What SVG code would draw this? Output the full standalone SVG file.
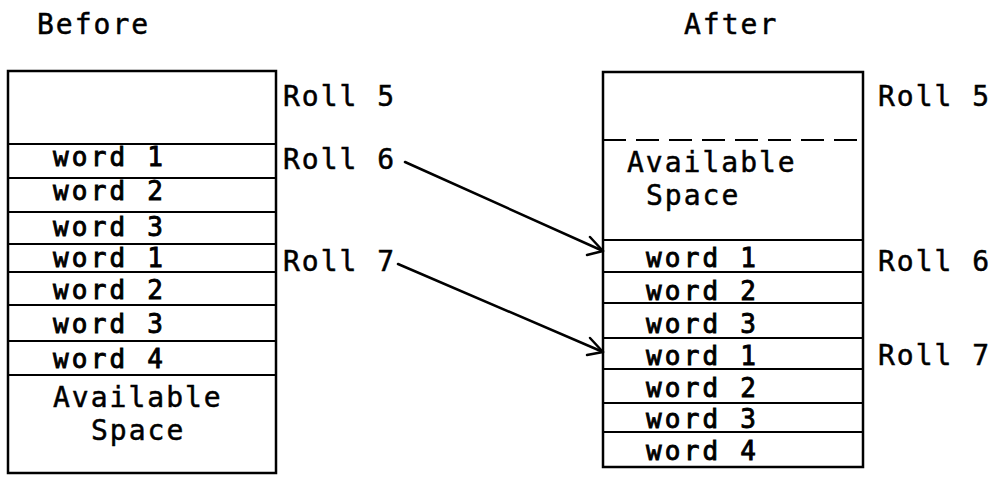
<svg xmlns="http://www.w3.org/2000/svg" width="997" height="478" viewBox="0 0 997 478">
<style>
text{font-family:"DejaVu Sans Mono","Liberation Mono",monospace;font-size:28px;letter-spacing:2px;fill:#000;stroke:#000;stroke-width:0.5}
text.w{font-size:26px;letter-spacing:3.2px;stroke-width:0.9}
.box{fill:none;stroke:#000;stroke-width:2.5}
.sep{stroke:#000;stroke-width:2.2}
.dash{stroke:#000;stroke-width:2.2;stroke-dasharray:23 10}
.arr{fill:none;stroke:#000;stroke-width:2.5;stroke-linecap:round;stroke-linejoin:round}
</style>
<rect width="997" height="478" fill="#fff"/>
<text id="title-before" x="37" y="34">Before</text>
<text id="title-after" x="684" y="34">After</text>
<g id="before">
  <rect class="box" x="8" y="71" width="268" height="402"/>
  <line class="sep" x1="8" y1="144" x2="276" y2="144"/>
  <line class="sep" x1="8" y1="178" x2="276" y2="178"/>
  <line class="sep" x1="8" y1="212" x2="276" y2="212"/>
  <line class="sep" x1="8" y1="244" x2="276" y2="244"/>
  <line class="sep" x1="8" y1="272" x2="276" y2="272"/>
  <line class="sep" x1="8" y1="305" x2="276" y2="305"/>
  <line class="sep" x1="8" y1="341" x2="276" y2="341"/>
  <line class="sep" x1="8" y1="375" x2="276" y2="375"/>
  <text class="w" x="53" y="166">word 1</text>
  <text class="w" x="53" y="200">word 2</text>
  <text class="w" x="53" y="236">word 3</text>
  <text class="w" x="53" y="267">word 1</text>
  <text class="w" x="53" y="299">word 2</text>
  <text class="w" x="53" y="333">word 3</text>
  <text class="w" x="53" y="368">word 4</text>
  <text x="53" y="407">Available</text>
  <text x="91" y="440">Space</text>
</g>
<g id="before-labels">
  <text x="283" y="106">Roll 5</text>
  <text x="283" y="169">Roll 6</text>
  <text x="283" y="271">Roll 7</text>
</g>
<g id="after">
  <rect class="box" x="603" y="72" width="260" height="395"/>
  <line class="dash" x1="603" y1="140" x2="863" y2="140"/>
  <line class="sep" x1="603" y1="240" x2="863" y2="240"/>
  <line class="sep" x1="603" y1="272" x2="863" y2="272"/>
  <line class="sep" x1="603" y1="303" x2="863" y2="303"/>
  <line class="sep" x1="603" y1="338" x2="863" y2="338"/>
  <line class="sep" x1="603" y1="369" x2="863" y2="369"/>
  <line class="sep" x1="603" y1="403" x2="863" y2="403"/>
  <line class="sep" x1="603" y1="432" x2="863" y2="432"/>
  <text x="627" y="172">Available</text>
  <text x="646" y="205">Space</text>
  <text class="w" x="646" y="267">word 1</text>
  <text class="w" x="646" y="300">word 2</text>
  <text class="w" x="646" y="333">word 3</text>
  <text class="w" x="646" y="365">word 1</text>
  <text class="w" x="646" y="397">word 2</text>
  <text class="w" x="646" y="428">word 3</text>
  <text class="w" x="646" y="460">word 4</text>
</g>
<g id="after-labels">
  <text x="878" y="106">Roll 5</text>
  <text x="878" y="271">Roll 6</text>
  <text x="878" y="365">Roll 7</text>
</g>
<g id="connectors">
  <path class="arr" d="M405 162 L603 251"/>
  <path class="arr" d="M590 237 L603 251 L587 255"/>
  <path class="arr" d="M398 264 L603 352"/>
  <path class="arr" d="M590 338 L603 352 L587 355"/>
</g>
</svg>
